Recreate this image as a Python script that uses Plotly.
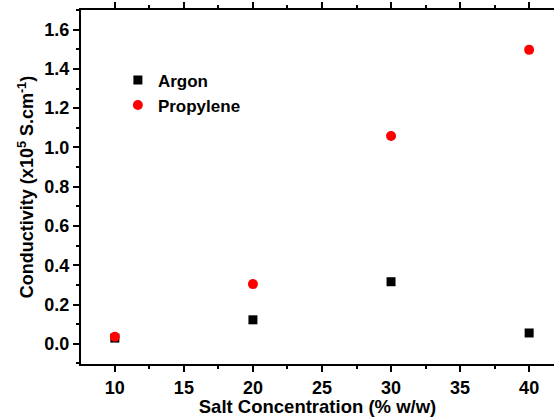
import plotly.graph_objects as go

salt = [10, 20, 30, 40]
argon = [0.029, 0.122, 0.316, 0.055]
propylene = [0.036, 0.304, 1.058, 1.497]

FONT = "Liberation Sans, Arial, sans-serif"

fig = go.Figure()
fig.add_trace(go.Scatter(x=salt, y=argon, mode="markers", name="Argon",
                         marker=dict(symbol="square", size=9, color="black")))
fig.add_trace(go.Scatter(x=salt, y=propylene, mode="markers", name="Propylene",
                         marker=dict(symbol="circle", size=10, color="#ff0000")))

fig.update_layout(
    width=554, height=417,
    margin=dict(l=81, r=0, t=10, b=53),
    plot_bgcolor="white", paper_bgcolor="white",
    font=dict(family=FONT, size=17, color="black", weight="bold"),
    legend=dict(x=0.078, y=0.852, xanchor="left", yanchor="top",
                bgcolor="rgba(0,0,0,0)", font=dict(size=17, weight="bold"),
                itemwidth=30, tracegroupgap=0),
    xaxis=dict(range=[7.55, 41.8], tickvals=[10, 15, 20, 25, 30, 35, 40],
               ticks="outside", ticklen=6, tickwidth=1.5, tickcolor="black",
               showline=True, linecolor="black", linewidth=2, mirror="ticks",
               showgrid=False, zeroline=False,
               minor=dict(dtick=2.5, tick0=0, ticks="outside", ticklen=3, tickcolor="black", tickwidth=1.5),
               tickfont=dict(size=18, weight="bold"),
               title=dict(text="Salt Concentration (% w/w)", font=dict(size=18.5, weight="bold"), standoff=3)),
    yaxis=dict(range=[-0.103, 1.70], tickvals=[0, 0.2, 0.4, 0.6, 0.8, 1.0, 1.2, 1.4, 1.6],
               tickformat=".1f",
               ticks="outside", ticklen=6, tickwidth=1.5, tickcolor="black",
               showline=True, linecolor="black", linewidth=2, mirror=False,
               showgrid=False, zeroline=False,
               minor=dict(dtick=0.1, tick0=0, ticks="outside", ticklen=3, tickcolor="black", tickwidth=1.5),
               tickfont=dict(size=18, weight="bold"),
               title=dict(text="Conductivity (x10<sup>5</sup> S.cm<sup>-1</sup>)", font=dict(size=18, weight="bold"), standoff=6)),
)

fig.write_html("out.html")
